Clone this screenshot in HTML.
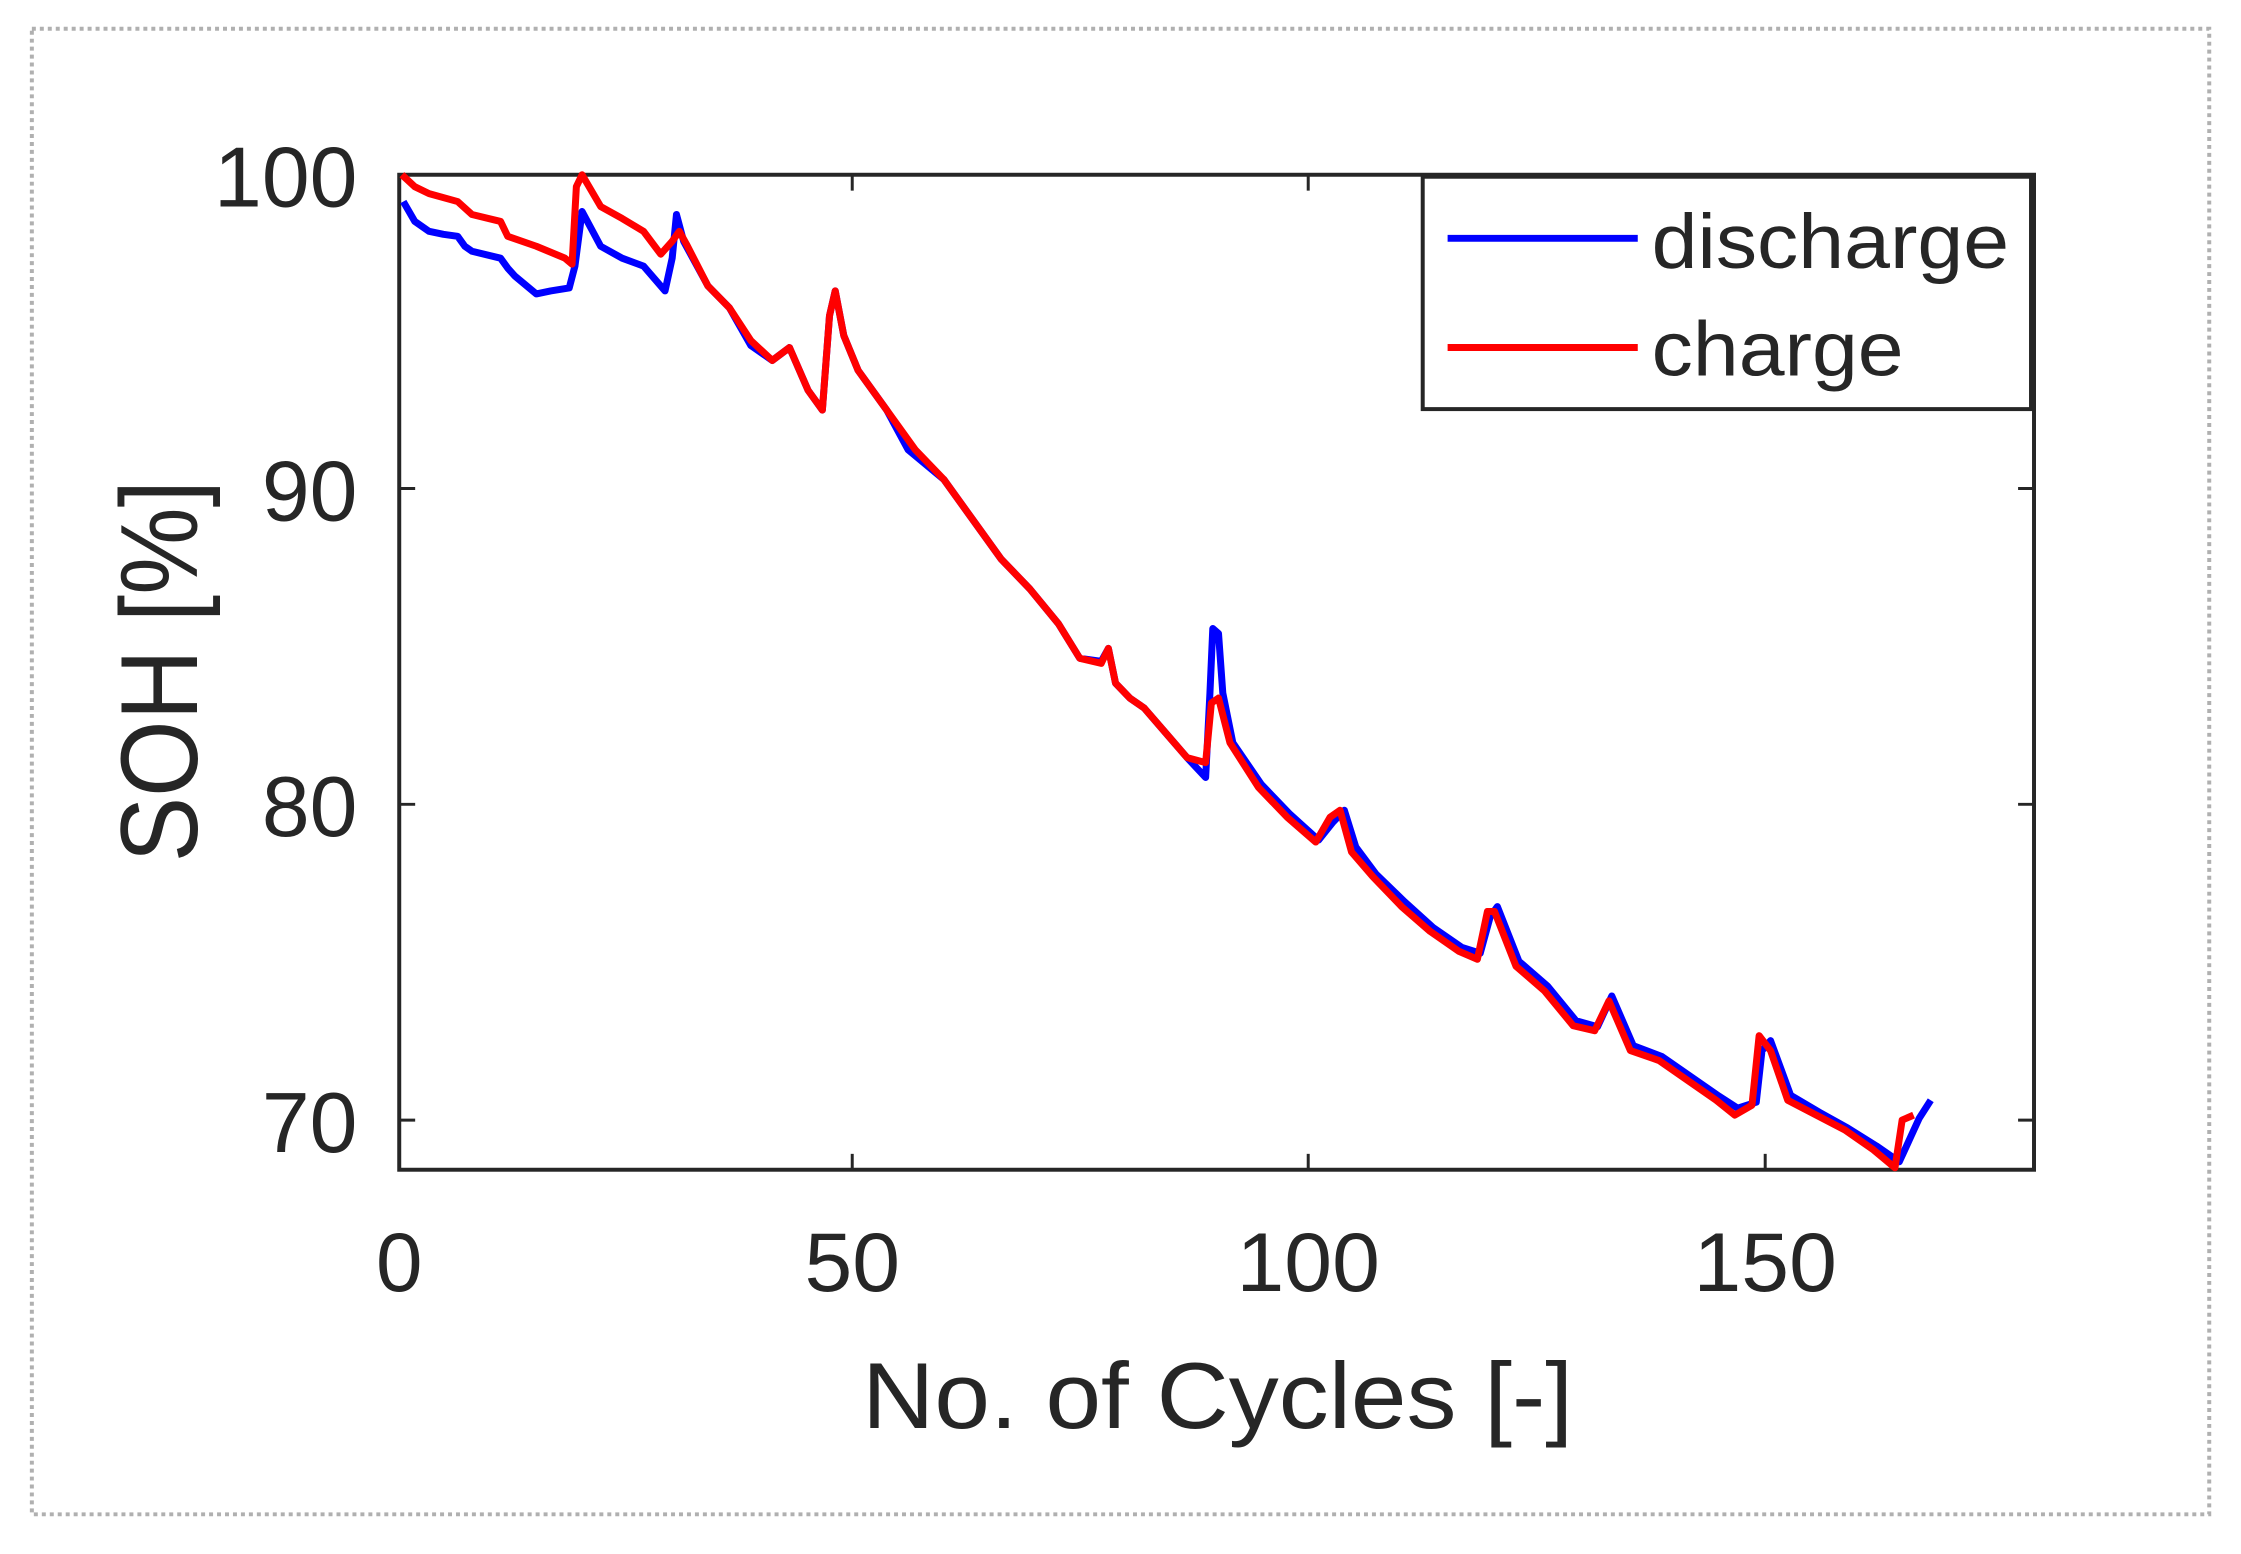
<!DOCTYPE html>
<html><head><style>
html,body{margin:0;padding:0;background:#fff;}
svg{display:block;}
text{font-family:"Liberation Sans",Arial,sans-serif;fill:#262626;}
</style></head><body>
<svg width="2241" height="1554" viewBox="0 0 2241 1554" xmlns="http://www.w3.org/2000/svg">
<g transform="translate(0,-2) scale(0.9956,0.993)">
<rect x="32" y="31" width="2187" height="1496" fill="none" stroke="#b0b0b0" stroke-width="4" stroke-dasharray="4,4"/>
<rect x="401" y="178" width="1642" height="1002" fill="#fff" stroke="#262626" stroke-width="4"/>
<g stroke="#262626" stroke-width="3">
<line x1="856" y1="1180" x2="856" y2="1164"/><line x1="1314" y1="1180" x2="1314" y2="1164"/><line x1="1773" y1="1180" x2="1773" y2="1164"/>
<line x1="856" y1="178" x2="856" y2="194"/><line x1="1314" y1="178" x2="1314" y2="194"/><line x1="1773" y1="178" x2="1773" y2="194"/>
<line x1="401" y1="494" x2="417" y2="494"/><line x1="401" y1="812" x2="417" y2="812"/><line x1="401" y1="1130" x2="417" y2="1130"/>
<line x1="2043" y1="494" x2="2027" y2="494"/><line x1="2043" y1="812" x2="2027" y2="812"/><line x1="2043" y1="1130" x2="2027" y2="1130"/>
</g>
<g transform="scale(1.4365,1)" fill="none" stroke-width="7" stroke-linejoin="round">
<polyline vector-effect="non-scaling-stroke" stroke="#0000ff" points="282,205 290,225 300,235 310,238 320,240 325,250 330,255 350,262 355,272 360,280 375,298 385,295 398,292 402,270 407,215 420,250 435,262 450,270 465,295 470,262 473,218 478,245 495,290 510,312 525,350 540,365 552,352 565,395 575,415 580,320 584,295 590,340 600,375 620,415 635,455 660,485 680,525 700,565 720,595 740,630 755,665 770,668 775,655 780,690 790,705 800,715 815,740 830,765 843,785 846,700 848,635 852,640 855,700 862,750 882,792 902,822 922,848 932,830 940,818 948,855 962,882 982,910 1002,936 1022,956 1035,962 1042,925 1047,915 1062,970 1082,995 1102,1030 1117,1036 1127,1005 1142,1055 1162,1066 1182,1086 1202,1106 1215,1118 1228,1112 1232,1060 1238,1050 1252,1105 1272,1122 1292,1138 1312,1156 1328,1172 1335,1150 1342,1128 1350,1110"/>
<polyline vector-effect="non-scaling-stroke" stroke="#ff0000" points="281,178 290,190 300,197 320,205 330,218 350,225 355,240 375,250 395,262 400,268 403,190 407,178 420,210 435,222 450,235 462,258 470,245 475,235 480,248 495,290 510,312 525,345 540,365 552,352 565,395 575,415 580,320 584,295 590,340 600,375 620,415 640,455 660,485 680,525 700,565 720,595 740,630 755,665 770,670 775,655 780,690 790,705 800,715 815,740 830,765 843,770 847,710 852,705 860,750 880,795 900,825 920,850 930,825 937,818 945,860 960,885 980,915 1000,940 1020,960 1033,968 1040,920 1045,920 1060,975 1080,1000 1100,1035 1115,1040 1125,1010 1140,1060 1160,1070 1180,1090 1200,1110 1213,1125 1225,1115 1230,1045 1238,1060 1250,1110 1270,1125 1290,1140 1310,1160 1325,1178 1330,1130 1338,1125"/>
</g>
<rect x="1429" y="180" width="611" height="234" fill="#fff" stroke="#262626" stroke-width="4"/>
<line x1="1454" y1="242" x2="1645" y2="242" stroke="#0000ff" stroke-width="7"/>
<line x1="1454" y1="352" x2="1645" y2="352" stroke="#ff0000" stroke-width="7"/>
<text x="1659" y="272" font-size="78" textLength="359" lengthAdjust="spacingAndGlyphs">discharge</text>
<text x="1659" y="380" font-size="78" textLength="253" lengthAdjust="spacingAndGlyphs">charge</text>
<g font-size="86" text-anchor="end">
<text x="359" y="210" textLength="144" lengthAdjust="spacingAndGlyphs">100</text>
<text x="359" y="526" textLength="96" lengthAdjust="spacingAndGlyphs">90</text>
<text x="359" y="844" textLength="96" lengthAdjust="spacingAndGlyphs">80</text>
<text x="359" y="1162" textLength="96" lengthAdjust="spacingAndGlyphs">70</text>
</g>
<g font-size="84" text-anchor="middle">
<text x="401" y="1302">0</text>
<text x="856" y="1302" textLength="96" lengthAdjust="spacingAndGlyphs">50</text>
<text x="1314" y="1302" textLength="144" lengthAdjust="spacingAndGlyphs">100</text>
<text x="1773" y="1302" textLength="144" lengthAdjust="spacingAndGlyphs">150</text>
</g>
<text x="1223" y="1440" font-size="94" text-anchor="middle" textLength="714" lengthAdjust="spacingAndGlyphs">No. of Cycles [-]</text>
<text transform="translate(198,678) rotate(-90)" font-size="110" text-anchor="middle" textLength="385" lengthAdjust="spacingAndGlyphs">SOH [%]</text>
</g>
</svg>
</body></html>
